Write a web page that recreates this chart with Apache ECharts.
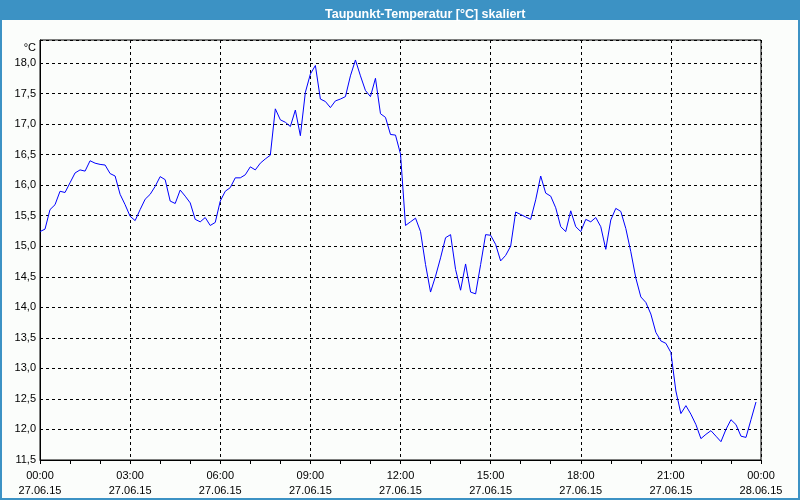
<!DOCTYPE html>
<html>
<head>
<meta charset="utf-8">
<script src="https://cdn.jsdelivr.net/npm/echarts@6/dist/echarts.min.js"></script>
<style>
html,body{margin:0;padding:0;background:#fbfdfb;}
#chart{width:800px;height:500px;}
</style>
</head>
<body>
<div id="chart"></div>
<script>
// Dew point temperature, 10-minute readings from 27.06.15 00:00 to 23:50
const stepMinutes = 10;
const dewPoint = [
  15.24, 15.28, 15.60, 15.68, 15.90, 15.88, 16.04, 16.20, 16.25, 16.23, 16.40, 16.36,
  16.34, 16.33, 16.19, 16.15, 15.85, 15.68, 15.49, 15.42, 15.60, 15.77, 15.85, 15.98,
  16.14, 16.09, 15.74, 15.70, 15.92, 15.82, 15.71, 15.44, 15.40, 15.47, 15.34, 15.39,
  15.74, 15.90, 15.96, 16.12, 16.12, 16.17, 16.30, 16.25, 16.36, 16.43, 16.49, 17.25,
  17.07, 17.03, 16.96, 17.23, 16.81, 17.52, 17.82, 17.96, 17.41, 17.37, 17.27, 17.38,
  17.41, 17.45, 17.79, 18.05, 17.79, 17.55, 17.45, 17.75, 17.17, 17.11, 16.83, 16.82,
  16.51, 15.34, 15.40, 15.46, 15.24, 14.70, 14.25, 14.51, 14.81, 15.14, 15.19, 14.62,
  14.28, 14.71, 14.25, 14.22, 14.70, 15.19, 15.18, 15.03, 14.76, 14.85, 15.00, 15.56,
  15.52, 15.48, 15.44, 15.76, 16.15, 15.87, 15.82, 15.63, 15.32, 15.24, 15.58, 15.32,
  15.24, 15.44, 15.40, 15.47, 15.32, 14.95, 15.43, 15.62, 15.57, 15.29, 14.91, 14.48,
  14.17, 14.08, 13.89, 13.59, 13.45, 13.41, 13.26, 12.63, 12.26, 12.39, 12.25, 12.08,
  11.85, 11.92, 11.98, 11.89, 11.80, 12.00, 12.16, 12.08, 11.89, 11.87, 12.16, 12.45
];
const timeLabels = ['00:00','03:00','06:00','09:00','12:00','15:00','18:00','21:00','00:00'];
const dateLabels = ['27.06.15','27.06.15','27.06.15','27.06.15','27.06.15','27.06.15','27.06.15','27.06.15','28.06.15'];
const xTickMinutes = 180;
const yMin = 11.5, yMax = 18.377, yStep = 0.5;

const seriesData = dewPoint.map((v, i) => [i * stepMinutes, v]);

const chart = echarts.init(document.getElementById('chart'), null, {renderer: 'canvas'});
const font = 'Liberation Sans, Arial, sans-serif';
chart.setOption({
  animation: false,
  backgroundColor: '#fbfdfb',
  textStyle: {fontFamily: font},
  graphic: [
    {type: 'rect', left: 0, top: 0, shape: {width: 800, height: 20}, style: {fill: '#3c92c4'}, silent: true},
    {type: 'rect', left: 0, top: 0, shape: {width: 2, height: 500}, style: {fill: '#3c92c4'}, silent: true},
    {type: 'rect', right: 0, top: 0, shape: {width: 2, height: 500}, style: {fill: '#3c92c4'}, silent: true},
    {type: 'rect', left: 0, bottom: 0, shape: {width: 800, height: 2}, style: {fill: '#3c92c4'}, silent: true}
  ],
  title: {
    text: 'Taupunkt-Temperatur [°C] skaliert',
    left: 320, top: 3,
    textStyle: {color: '#ffffff', fontSize: 12.5, fontWeight: 'bold', fontFamily: font}
  },
  grid: {left: 40, right: 39, top: 40, bottom: 40, show: true, borderColor: '#000', borderWidth: 1, backgroundColor: 'transparent'},
  xAxis: {
    type: 'value',
    min: 0, max: 1440, interval: xTickMinutes,
    axisLine: {show: true, onZero: false, lineStyle: {color: '#000', width: 1}},
    axisTick: {show: true, length: 4, lineStyle: {color: '#000'}},
    minorTick: {show: true, splitNumber: 3, length: 4, lineStyle: {color: '#000'}},
    splitLine: {show: true, lineStyle: {color: '#000', type: [3, 3], width: 1}},
    axisLabel: {
      color: '#000', fontSize: 11, fontFamily: font, margin: 8, lineHeight: 15,
      formatter: function (v) {
        const k = Math.round(v / xTickMinutes);
        return timeLabels[k] + '\n' + dateLabels[k];
      }
    }
  },
  yAxis: {
    type: 'value',
    min: yMin, max: yMax, interval: yStep,
    name: '°C', nameLocation: 'end', nameGap: -2,
    nameTextStyle: {color: '#000', fontSize: 11, fontFamily: font, align: 'right', verticalAlign: 'top', padding: [0, 4, 0, 0]},
    axisLine: {show: true, lineStyle: {color: '#000', width: 1}},
    axisTick: {show: false},
    splitLine: {show: true, lineStyle: {color: '#000', type: [3, 3], width: 1}},
    axisLabel: {
      color: '#000', fontSize: 11, fontFamily: font, margin: 4,
      formatter: function (v) {
        const r = Math.round(v / yStep) * yStep;
        if (Math.abs(r - v) > 1e-6) return '';
        return r.toFixed(1).replace('.', ',');
      }
    }
  },
  series: [{
    type: 'line',
    data: seriesData,
    showSymbol: false,
    symbol: 'none',
    lineStyle: {color: '#0000ff', width: 1},
    silent: true
  }]
});
</script>
</body>
</html>
